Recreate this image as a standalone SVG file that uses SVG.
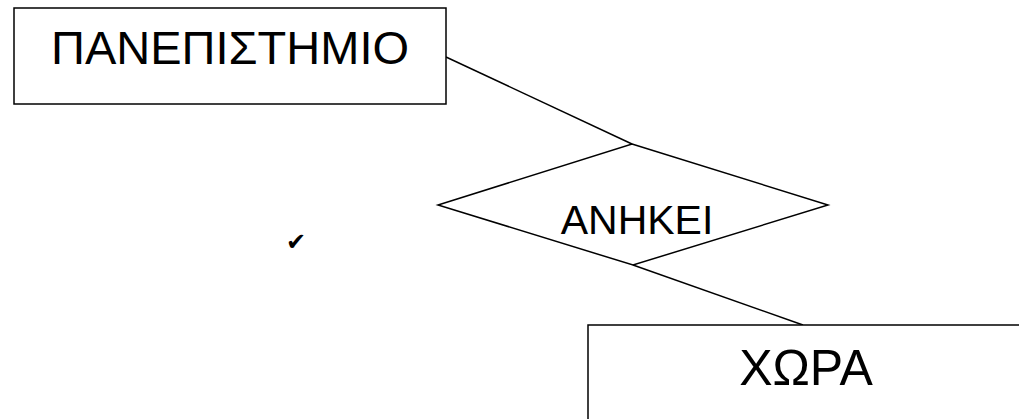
<svg xmlns="http://www.w3.org/2000/svg" width="1019" height="419" viewBox="0 0 1019 419">
<style>
.shape{fill:#fff;stroke:#000;stroke-width:1.5}
.line{fill:none;stroke:#000;stroke-width:1.5}
.t{font-family:"Liberation Sans",Arial,sans-serif;fill:#000}
</style>
<rect width="1019" height="419" fill="#fff"/>
<g id="connectors">
<line class="line" x1="446" y1="57" x2="632" y2="144"/>
<line class="line" x1="633" y1="265" x2="803" y2="325"/>
</g>
<g id="panepistimio">
<rect class="shape" x="14" y="8" width="432" height="96"/>
<text class="t" x="230" y="64" font-size="47" text-anchor="middle">ΠΑΝΕΠΙΣΤΗΜΙΟ</text>
</g>
<g id="anikei">
<polygon class="shape" points="632,144 828,205 633,265 438,205"/>
<text class="t" x="637" y="234" font-size="41" text-anchor="middle">ΑΝΗΚΕΙ</text>
</g>
<g id="xora">
<rect class="shape" x="588" y="325" width="440" height="110"/>
<text class="t" x="806" y="385" font-size="50" text-anchor="middle">ΧΩΡΑ</text>
</g>
<text x="286" y="250" font-size="24" font-weight="bold" font-family="'DejaVu Sans',sans-serif" fill="#000">✔</text>
</svg>
